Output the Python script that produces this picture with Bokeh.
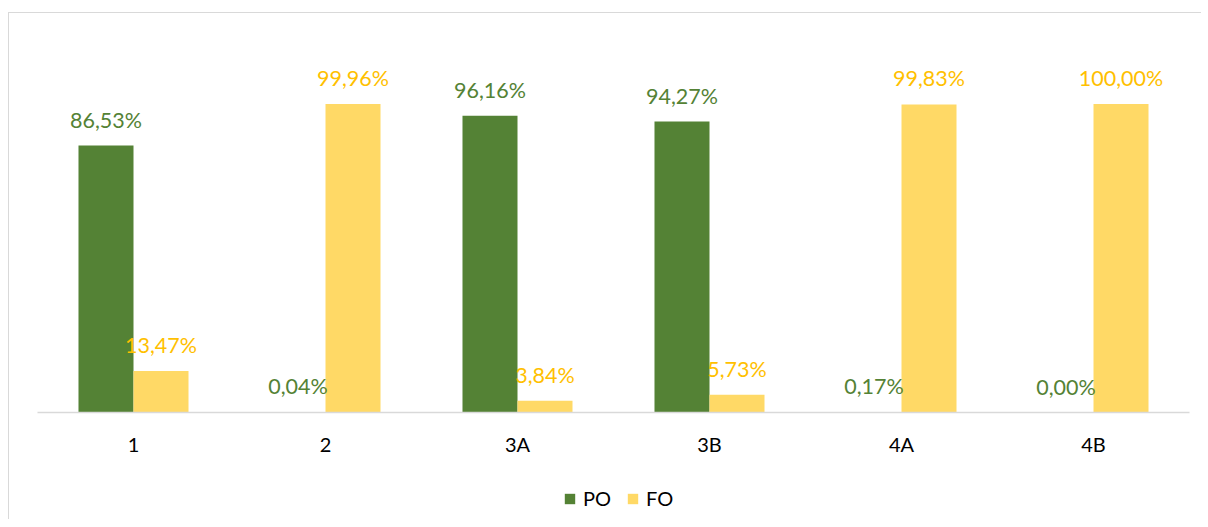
from bokeh.plotting import figure
from bokeh.layouts import column
from bokeh.models import ColumnDataSource, Legend, LegendItem, Range1d
from bokeh.transform import dodge
from bokeh.core.properties import value
from bokeh.embed import file_html
from bokeh.resources import INLINE

categories = ["1", "2", "3A", "3B", "4A", "4B"]
po_values = [86.53, 0.04, 96.16, 94.27, 0.17, 0.00]
fo_values = [13.47, 99.96, 3.84, 5.73, 99.83, 100.00]
series_names = ["PO", "FO"]

GREEN = "#548235"
YELLOW = "#FFD966"
YELLOW_TXT = "#FFC000"
FONT = "Lato"

def fmt(v):
    return ("%.2f%%" % v).replace(".", ",")

src = ColumnDataSource(dict(
    cat=categories,
    po=po_values,
    fo=fo_values,
    po_lbl=[fmt(v) for v in po_values],
    fo_lbl=[fmt(v) for v in fo_values],
))

p = figure(x_range=categories, y_range=Range1d(0, 123.8),
           width=1192, height=470, output_backend="svg", toolbar_location=None,
           min_border_left=28, min_border_right=12, min_border_top=17, min_border_bottom=71)
p.outline_line_color = None
p.xgrid.grid_line_color = None
p.ygrid.grid_line_color = None
p.yaxis.visible = False

bw = 0.2865
r_po = p.vbar(x=dodge("cat", -bw / 2, range=p.x_range), top="po", width=bw, source=src,
              fill_color=GREEN, line_color=None)
r_fo = p.vbar(x=dodge("cat", bw / 2, range=p.x_range), top="fo", width=bw, source=src,
              fill_color=YELLOW, line_color=None)

p.text(x=dodge("cat", -bw / 2, range=p.x_range), y="po", text="po_lbl", source=src,
       text_align="center", text_baseline="middle", y_offset=-26,
       text_font=value(FONT), text_font_size="21.5px", text_color=GREEN)
p.text(x=dodge("cat", bw / 2, range=p.x_range), y="fo", text="fo_lbl", source=src,
       text_align="center", text_baseline="middle", y_offset=-26,
       text_font=value(FONT), text_font_size="21.5px", text_color=YELLOW_TXT)

ax = p.xaxis[0]
ax.axis_line_color = "#d9d9d9"
ax.axis_line_width = 1.5
ax.major_tick_line_color = None
ax.minor_tick_line_color = None
ax.major_label_standoff = 13
ax.major_label_text_font = FONT
ax.major_label_text_font_size = "20px"
ax.major_label_text_color = "#000000"

# legend strip below the plot
lg = figure(width=1192, height=36, output_backend="svg", toolbar_location=None,
            x_range=Range1d(0, 1), y_range=Range1d(0, 1),
            min_border=0, min_border_left=0, min_border_right=0,
            min_border_top=0, min_border_bottom=0)
lg.outline_line_color = None
lg.xaxis.visible = False
lg.yaxis.visible = False
lg.xgrid.grid_line_color = None
lg.ygrid.grid_line_color = None
d_po = lg.vbar(x=[0.5], bottom=[0], top=[0], width=0.0, fill_color=GREEN, line_color=None)
d_fo = lg.vbar(x=[0.5], bottom=[0], top=[0], width=0.0, fill_color=YELLOW, line_color=None)

legend = Legend(items=[LegendItem(label=series_names[0], renderers=[d_po]),
                       LegendItem(label=series_names[1], renderers=[d_fo])],
                orientation="horizontal", location=(526, 9))
legend.border_line_color = None
legend.background_fill_alpha = 0
legend.label_text_font = FONT
legend.label_text_font_size = "20px"
legend.label_text_color = "#000000"
legend.glyph_width = 13
legend.glyph_height = 13
legend.label_standoff = 7
legend.spacing = 15
legend.margin = 0
legend.padding = 4
lg.add_layout(legend)

layout = column(p, lg, spacing=0)
layout.margin = (12, 0, 0, 8)
layout.styles = {"border-left": "1px solid #d9d9d9", "border-top": "1px solid #d9d9d9"}

open("out.html", "w").write(file_html(layout, INLINE))
